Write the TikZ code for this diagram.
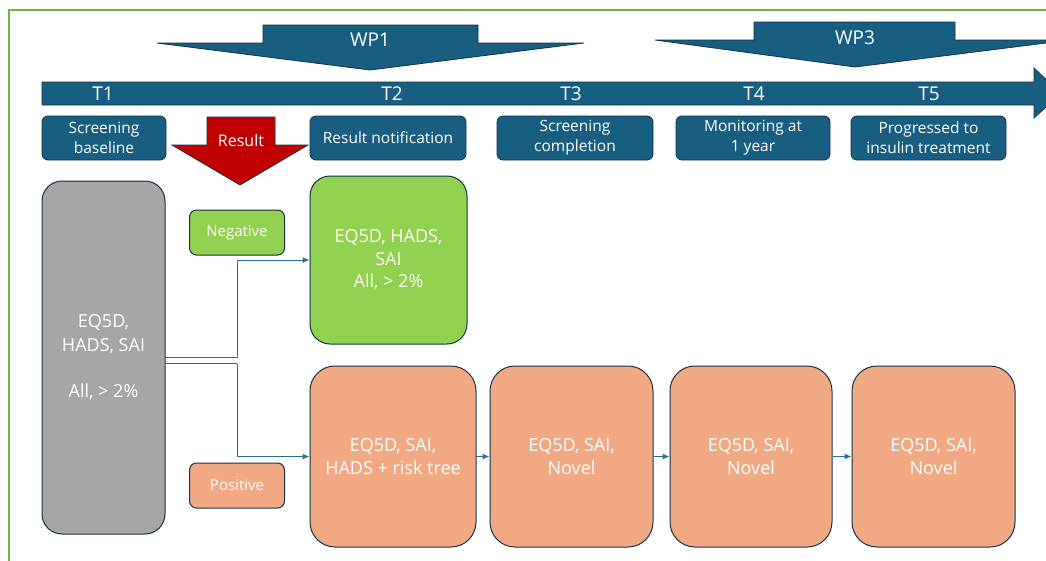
\documentclass[tikz,border=0pt]{standalone}
\usepackage{fontspec}
\setmainfont{Open Sans}
\usetikzlibrary{arrows.meta}
\definecolor{dblue}{RGB}{24,94,128}
\definecolor{bedge}{RGB}{20,52,70}
\definecolor{frameg}{RGB}{112,180,72}
\definecolor{grayf}{RGB}{166,166,166}
\definecolor{greenf}{RGB}{146,208,80}
\definecolor{orangef}{RGB}{241,169,131}
\definecolor{redf}{RGB}{192,0,0}
\definecolor{connc}{RGB}{40,110,150}
\tikzset{
  shp/.style={fill=dblue, draw=bedge, line width=0.8pt},
  lbl/.style={text=white, font=\fontsize{19}{22}\selectfont, inner sep=0pt},
  topbox/.style={shp, rounded corners=6pt, minimum height=44pt, text=white,
     align=center, font=\fontsize{15.5}{20}\selectfont, inner sep=1pt},
  bigbox/.style={draw=bedge, line width=1pt, text=white, align=center,
     font=\fontsize{18}{22.5}\selectfont, inner sep=2pt},
  smallbox/.style={draw=bedge, line width=1pt, rounded corners=7pt, text=white,
     minimum width=95pt, minimum height=45pt, font=\fontsize{15}{18}\selectfont},
  conn/.style={draw=connc, line width=1pt, -{Latex[length=7pt,width=6pt]}},
  plain/.style={draw=connc, line width=1pt}
}
\begin{document}
\begin{tikzpicture}[x=1pt,y=-1pt]
\useasboundingbox (0,0) rectangle (1046,560);
\clip (0,0) rectangle (1046,560);
\fill[white] (0,0) rectangle (1046,560);
% frame
\draw[frameg, line width=1.5pt] (9,10) rectangle (1070,590);

% WP1 arrow
\draw[shp] (157,43) -- (263,43) -- (263,25) -- (478,25) -- (478,43) -- (584,43) -- (370,70) -- cycle;
\node[lbl] (wp1) at (370,40) {WP1};
% WP3 arrow
\draw[shp] (655,40) -- (754,40) -- (754,22) -- (955,22) -- (955,40) -- (1070,40) -- (855,67) -- cycle;
\node[lbl] (wp3) at (855,38) {WP3};

% timeline arrow
\draw[shp] (42,82) -- (1034,82) -- (1034,68) -- (1061,93.5) -- (1034,118) -- (1034,105) -- (42,105) -- cycle;
\node[lbl] (t1) at (103,94) {T1};
\node[lbl] (t2) at (392,94) {T2};
\node[lbl] (t3) at (571,94) {T3};
\node[lbl] (t4) at (754,94) {T4};
\node[lbl] (t5) at (929,94) {T5};

% top boxes
\node[topbox, minimum width=124pt] (sb) at (104,138) {Screening\\baseline};
\node[topbox, minimum width=156pt] (rn) at (388,138) {Result notification};
\node[topbox, minimum width=156pt] (sc) at (575,138) {Screening\\completion};
\node[topbox, minimum width=154pt] (mo) at (753,138) {Monitoring at\\1 year};
\node[topbox, minimum width=155pt] (pr) at (928.5,138) {Progressed to\\insulin treatment};

% red Result arrow
\draw[fill=redf, draw=bedge, line width=0.8pt] (207,117) -- (275,117) -- (275,145) -- (308,145) -- (240,185) -- (172,145) -- (207,145) -- cycle;
\node[text=white, font=\fontsize{16}{19}\selectfont, inner sep=0pt] (res) at (241,140) {Result};

% gray box
\node[bigbox, fill=grayf, rounded corners=20pt, minimum width=123pt, minimum height=353pt,
  font=\fontsize{18}{23.3}\selectfont] (gray) at (103.5,357.5) {EQ5D,\\HADS, SAI\\[23.3pt]All, > 2\%};

% small labels
\node[smallbox, fill=greenf] (neg) at (237,232.5) {Negative};
\node[smallbox, fill=orangef] (pos) at (237,485.5) {Positive};

% green box
\node[bigbox, fill=greenf, rounded corners=20pt, minimum width=157pt, minimum height=168pt] (gbig) at (388.5,260)
  {EQ5D, HADS,\\SAI\\All, > 2\%};

% orange boxes
\node[bigbox, fill=orangef, rounded corners=25pt, minimum width=166pt, minimum height=181pt] (o1) at (393,456.5)
  {EQ5D, SAI,\\HADS + risk tree};
\node[bigbox, fill=orangef, rounded corners=25pt, minimum width=163pt, minimum height=181pt] (o2) at (571.5,456.5)
  {EQ5D, SAI,\\Novel};
\node[bigbox, fill=orangef, rounded corners=25pt, minimum width=162pt, minimum height=181pt] (o3) at (751,456.5)
  {EQ5D, SAI,\\Novel};
\node[bigbox, fill=orangef, rounded corners=25pt, minimum width=163pt, minimum height=181pt] (o4) at (933.5,456.5)
  {EQ5D, SAI,\\Novel};

% connectors
\coordinate (j1) at (237,357.5);
\coordinate (j2) at (237,363.5);
\draw[plain] (gray.east) -- (j1);
\draw[conn] (j1) |- (gbig.west);
\draw[plain] ([yshift=-6pt]gray.east) -- (j2);
\draw[conn] (j2) |- (o1.west);
\draw[conn] (o1.east) -- (o2.west);
\draw[conn] (o2.east) -- (o3.west);
\draw[conn] (o3.east) -- (o4.west);
\end{tikzpicture}
\end{document}
